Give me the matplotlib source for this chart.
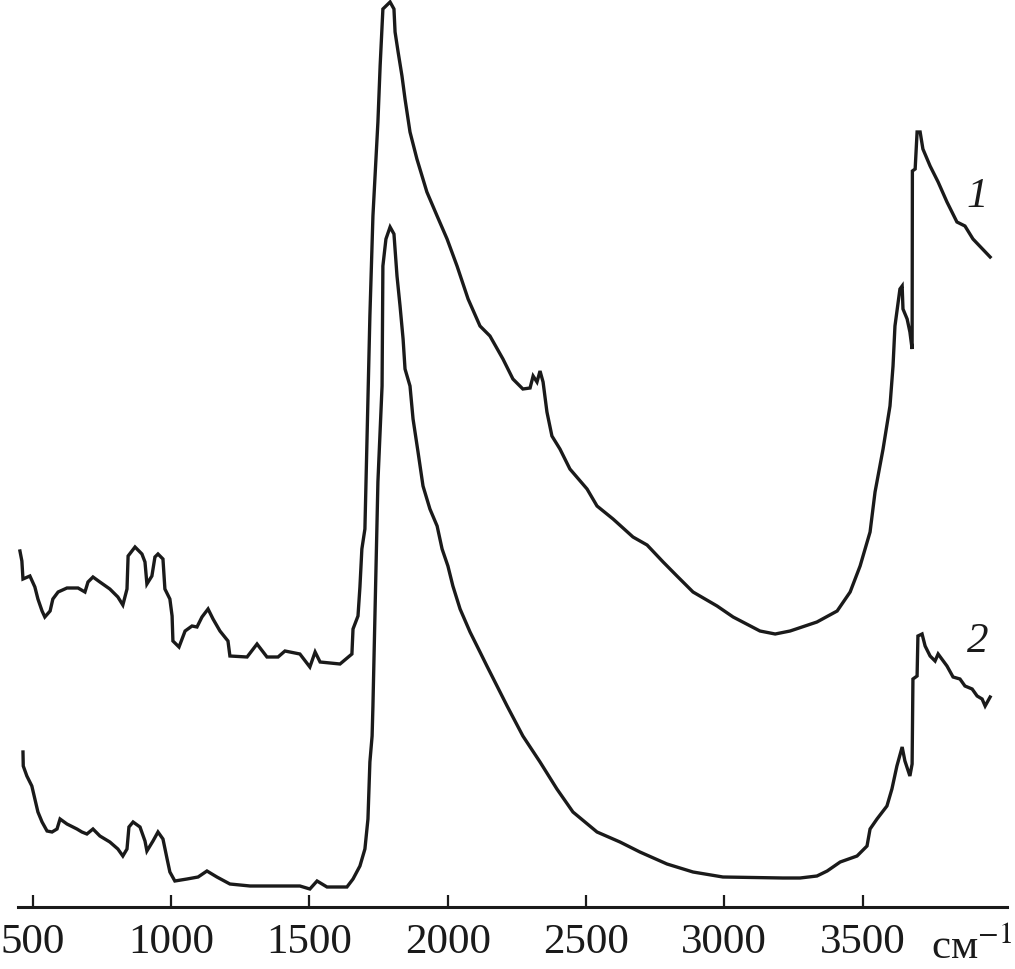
import matplotlib
matplotlib.use("Agg")
import matplotlib.pyplot as plt

# Spectrum 1 (upper): wavenumber (cm^-1) and absorbance (a.u.)
wn1 = [454, 461, 465, 490, 508, 519, 534, 544, 563, 573, 592, 624, 664, 689, 700, 718, 743, 779,
       808, 826, 841, 845, 870, 895, 906, 913, 931, 942, 953, 971, 978, 996, 1004, 1007, 1029,
       1051, 1076, 1094, 1112, 1134, 1152, 1177, 1206, 1213, 1275, 1311, 1347, 1387, 1412, 1466,
       1502, 1521, 1539, 1611, 1654, 1658, 1676, 1683, 1690, 1701, 1719, 1730, 1748, 1756, 1766,
       1792, 1806, 1810, 1821, 1835, 1846, 1864, 1889, 1925, 1962, 1998, 2034, 2074, 2117, 2153,
       2200, 2236, 2272, 2298, 2309, 2323, 2334, 2345, 2359, 2377, 2406, 2442, 2504, 2540, 2598,
       2670, 2721, 2779, 2829, 2887, 2974, 3032, 3129, 3184, 3238, 3335, 3408, 3455, 3491, 3527,
       3545, 3574, 3599, 3610, 3617, 3635, 3643, 3646, 3661, 3671, 3679, 3680, 3690, 3697, 3708,
       3718, 3744, 3773, 3805, 3841, 3870, 3899, 3961]
ab1 = [3.56, 3.46, 3.28, 3.31, 3.20, 3.08, 2.96, 2.90, 2.96, 3.08, 3.15, 3.19, 3.19, 3.15, 3.25,
       3.30, 3.25, 3.18, 3.10, 3.02, 3.18, 3.51, 3.60, 3.53, 3.45, 3.23, 3.31, 3.50, 3.53, 3.48,
       3.18, 3.08, 2.91, 2.66, 2.60, 2.76, 2.81, 2.80, 2.90, 2.98, 2.88, 2.76, 2.66, 2.51, 2.50,
       2.63, 2.50, 2.50, 2.56, 2.53, 2.40, 2.55, 2.45, 2.43, 2.53, 2.78, 2.91, 3.20, 3.58, 3.78,
       5.91, 6.91, 7.85, 8.41, 8.98, 9.05, 8.98, 8.75, 8.55, 8.31, 8.08, 7.75, 7.48, 7.15, 6.91,
       6.68, 6.41, 6.08, 5.81, 5.71, 5.48, 5.28, 5.18, 5.19, 5.31, 5.25, 5.36, 5.25, 4.95, 4.71,
       4.58, 4.38, 4.18, 4.01, 3.88, 3.70, 3.62, 3.45, 3.31, 3.15, 3.01, 2.90, 2.76, 2.73, 2.76,
       2.85, 2.96, 3.15, 3.41, 3.75, 4.15, 4.58, 5.01, 5.41, 5.81, 6.18, 6.21, 5.98, 5.88, 5.75,
       5.58, 7.36, 7.38, 7.75, 7.75, 7.58, 7.41, 7.25, 7.05, 6.85, 6.81, 6.68, 6.50]

# Spectrum 2 (lower)
wn2 = [465, 466, 479, 497, 508, 519, 534, 552, 570, 588, 599, 624, 660, 678, 696, 718, 743, 779,
       808, 826, 841, 848, 863, 888, 906, 913, 935, 953, 971, 986, 996, 1014, 1058, 1098, 1130,
       1166, 1213, 1286, 1466, 1502, 1528, 1564, 1636, 1658, 1683, 1701, 1712, 1719, 1727, 1730,
       1748, 1763, 1766, 1777, 1792, 1806, 1817, 1828, 1839, 1846, 1864, 1875, 1893, 1911, 1936,
       1962, 1980, 2001, 2019, 2045, 2081, 2117, 2142, 2215, 2272, 2334, 2395, 2453, 2540, 2623,
       2695, 2793, 2887, 2995, 3212, 3274, 3335, 3372, 3419, 3480, 3516, 3527, 3552, 3588, 3606,
       3624, 3643, 3653, 3671, 3679, 3682, 3697, 3700, 3715, 3726, 3744, 3762, 3773, 3805, 3827,
       3852, 3870, 3896, 3914, 3932, 3943, 3961]
ab2 = [1.55, 1.41, 1.31, 1.21, 1.08, 0.95, 0.85, 0.76, 0.75, 0.78, 0.88, 0.83, 0.78, 0.75, 0.73,
       0.78, 0.71, 0.65, 0.58, 0.51, 0.58, 0.80, 0.85, 0.80, 0.66, 0.56, 0.66, 0.75, 0.68, 0.48,
       0.35, 0.26, 0.28, 0.30, 0.36, 0.30, 0.23, 0.21, 0.21, 0.18, 0.26, 0.20, 0.20, 0.28, 0.41,
       0.58, 0.88, 1.45, 1.71, 2.01, 4.25, 5.21, 6.41, 6.68, 6.80, 6.73, 6.31, 6.01, 5.68, 5.38,
       5.21, 4.88, 4.55, 4.21, 3.98, 3.81, 3.58, 3.41, 3.21, 2.98, 2.75, 2.55, 2.41, 2.01, 1.71,
       1.45, 1.18, 0.95, 0.75, 0.65, 0.55, 0.43, 0.35, 0.30, 0.29, 0.29, 0.31, 0.36, 0.45, 0.51,
       0.61, 0.78, 0.88, 1.01, 1.18, 1.41, 1.60, 1.46, 1.31, 1.43, 2.28, 2.31, 2.71, 2.73, 2.61,
       2.51, 2.46, 2.53, 2.41, 2.30, 2.28, 2.21, 2.18, 2.11, 2.08, 2.01, 2.10]

xticks = [500, 1000, 1500, 2000, 2500, 3000, 3500]
curve_labels = ["1", "2"]
unit_label = "см$^{-1}$"

plt.rcParams['mathtext.fontset'] = 'stix'
plt.rcParams['font.family'] = ['Liberation Serif', 'DejaVu Serif']

ink = '#1a1a1a'
fig = plt.figure(figsize=(10.15, 9.7), dpi=100)
ax = fig.add_axes([18 / 1015, 62 / 970, 989 / 1015, 908 / 970])

ax.plot(wn1, ab1, color=ink, lw=2.4, solid_joinstyle='miter')
ax.plot(wn2, ab2, color=ink, lw=2.4, solid_joinstyle='miter')

ax.set_xlim(447, 4022)
ax.set_ylim(0, 9.08)

for s in ['left', 'right', 'top']:
    ax.spines[s].set_visible(False)
ax.spines['bottom'].set_linewidth(2.2)
ax.spines['bottom'].set_color(ink)
ax.set_yticks([])
ax.set_xticks(xticks)
ax.set_xticklabels([str(t) for t in xticks])
ax.tick_params(axis='x', direction='in', length=9, width=1.6, color=ink,
               labelsize=31, pad=11, labelcolor=ink)

ax.text(3915, 7.11, curve_labels[0], fontsize=31, style='italic', ha='center', va='center',
        color=ink)
ax.text(3915, 2.66, curve_labels[1], fontsize=31, style='italic', ha='center', va='center',
        color=ink)

fig.text(972 / 1015, 11 / 970, unit_label, fontsize=31, ha='center', va='baseline',
         color=ink)

fig.savefig('out.png', dpi=100, facecolor='white')
